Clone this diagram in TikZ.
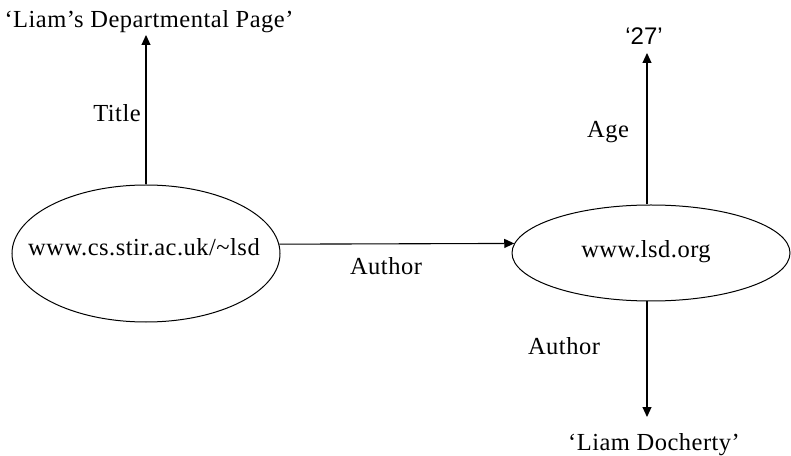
\documentclass[tikz,border=0pt]{standalone}
\usepackage{fontspec}
\setmainfont{Liberation Serif}[LetterSpace=2]
\newfontfamily\digitfont{Liberation Sans}
\usetikzlibrary{arrows.meta,shapes.geometric,calc}

\tikzset{
  resource/.style={ellipse, draw, line width=1bp, inner sep=0pt},
  lbl/.style={inner sep=0pt, anchor=base, font=\fontsize{24.5bp}{28bp}\selectfont},
  rel/.style={line width=1.1bp, -{Triangle[length=10bp,width=9bp]}}
}

\begin{document}
\begin{tikzpicture}[x=1bp, y=-1bp]
  \useasboundingbox (0,0) rectangle (791,456);

  % resources
  \node[resource, minimum width=268bp, minimum height=137bp] (home) at (146,253.5) {};
  \node[lbl] (homet) at (144,256) {www.cs.stir.ac.uk/\textasciitilde lsd};
  \node[resource, minimum width=278bp, minimum height=96bp] (lsd) at (651,253) {};
  \node[lbl] (lsdt) at (646,258) {www.lsd.org};

  % literal values
  \node[lbl] (title) at (149,28) {‘Liam’s Departmental Page’};
  \node[lbl, font=\digitfont\fontsize{24bp}{28bp}\selectfont] (age) at (644,45) {‘27’};
  \node[lbl] (name) at (654,450) {‘Liam Docherty’};

  % attachment points of the vertical properties
  \coordinate (agefoot) at ($(lsd.north)+(-4,0)$);
  \coordinate (agetip) at (agefoot |- {$(age.base)+(0,8)$});
  \coordinate (namefoot) at ($(lsd.south)+(-4,0)$);
  \coordinate (nametip) at (namefoot |- {$(name.base)+(0,-33)$});

  % properties
  \draw[rel] (home.north) -- (home.north |- {$(title.base)+(0,7)$});
  \node[lbl] (titlelbl) at (117,122) {Title};

  \draw[rel] (home.4) -- (lsd.176.7);
  \node[lbl] (authlbl) at (386,275) {Author};

  \draw[rel] (agefoot) -- (agetip);
  \node[lbl] (agelbl) at (608,138) {Age};

  \draw[rel] (namefoot) -- (nametip);
  \node[lbl] (auth2lbl) at (564,355) {Author};
\end{tikzpicture}
\end{document}
